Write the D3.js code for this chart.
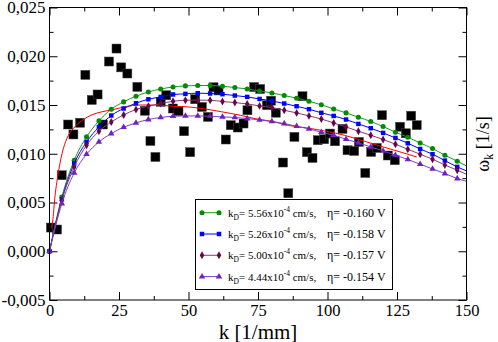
<!DOCTYPE html>
<html><head><meta charset="utf-8">
<script src="https://cdn.jsdelivr.net/npm/d3@7"></script>
<style>
html,body{margin:0;padding:0;background:#fff;}
svg{display:block;}
svg text{font-family:"Liberation Serif","Times New Roman",Times,"DejaVu Serif",serif !important;}
</style></head>
<body>
<svg id="chart" width="498" height="342"></svg>
<script>
// ---- data ----
const expK = [0.5, 2.7, 4.4, 6.7, 8.6, 11.0, 12.9, 15.2, 17.3, 19.2, 21.4, 24.1, 25.8, 28.0, 31.6, 34.3, 36.3, 38.1, 40.0, 42.0, 44.4, 46.4, 48.4, 50.6, 52.4, 54.8, 57.0, 59.0, 60.8, 63.4, 65.2, 67.7, 69.8, 71.2, 73.6, 75.8, 78.2, 79.7, 81.4, 84.0, 85.9, 88.1, 91.0, 92.6, 94.6, 96.5, 98.8, 100.9, 102.7, 105.4, 107.2, 109.6, 111.3, 113.6, 115.7, 117.7, 119.6, 121.7, 124.2, 126.1, 128.2, 130.1, 132.1];
const expW = [0.00243, 0.00223, 0.00780, 0.01300, 0.01198, 0.01318, 0.01809, 0.01552, 0.01608, 0.01300, 0.01946, 0.02079, 0.01886, 0.01823, 0.01686, 0.01441, 0.01131, 0.00967, 0.01532, 0.01600, 0.01464, 0.01436, 0.01231, 0.01016, 0.01559, 0.01480, 0.01378, 0.01682, 0.01649, 0.01146, 0.01293, 0.01269, 0.01310, 0.01446, 0.01684, 0.01664, 0.01498, 0.01544, 0.01421, 0.00910, 0.00595, 0.01173, 0.01590, 0.01016, 0.00957, 0.01139, 0.01149, 0.01207, 0.01128, 0.01255, 0.01036, 0.01029, 0.01121, 0.00803, 0.01019, 0.01060, 0.01395, 0.00982, 0.00934, 0.01277, 0.01210, 0.01390, 0.01293];

const modelK = [0, 4.44, 8.89, 13.33, 17.78, 22.22, 26.67, 31.11, 35.56, 40, 44.44, 48.89, 53.33, 57.78, 62.22, 66.67, 71.11, 75.56, 80, 84.44, 88.89, 93.33, 97.78, 102.22, 106.67, 111.11, 115.56, 120, 124.44, 128.89, 133.33, 137.78, 142.22, 146.67];
const greenW = [0, 0.00557, 0.00934, 0.01173, 0.01337, 0.01457, 0.01532, 0.01590, 0.01634, 0.01664, 0.01685, 0.01696, 0.01700, 0.01700, 0.01693, 0.01679, 0.01665, 0.01644, 0.01624, 0.01597, 0.01570, 0.01539, 0.01502, 0.01460, 0.01419, 0.01375, 0.01331, 0.01279, 0.01221, 0.01169, 0.01111, 0.01054, 0.00985, 0.00923];
const blueW = [0, 0.00533, 0.00900, 0.01121, 0.01275, 0.01392, 0.01464, 0.01518, 0.01559, 0.01583, 0.01608, 0.01614, 0.01621, 0.01618, 0.01611, 0.01597, 0.01583, 0.01562, 0.01542, 0.01515, 0.01487, 0.01457, 0.01420, 0.01388, 0.01351, 0.01306, 0.01262, 0.01214, 0.01162, 0.01108, 0.01049, 0.00995, 0.00930, 0.00865];
const maroonW = [0, 0.00523, 0.00865, 0.01087, 0.01231, 0.01326, 0.01398, 0.01454, 0.01488, 0.01515, 0.01538, 0.01549, 0.01550, 0.01549, 0.01536, 0.01525, 0.01511, 0.01491, 0.01474, 0.01446, 0.01419, 0.01388, 0.01356, 0.01316, 0.01275, 0.01231, 0.01190, 0.01146, 0.01098, 0.01046, 0.00995, 0.00944, 0.00885, 0.00831];
const purpleW = [0, 0.00489, 0.00803, 0.00995, 0.01121, 0.01207, 0.01272, 0.01316, 0.01351, 0.01372, 0.01385, 0.01388, 0.01388, 0.01385, 0.01378, 0.01372, 0.01361, 0.01347, 0.01331, 0.01310, 0.01282, 0.01255, 0.01221, 0.01190, 0.01149, 0.01111, 0.01070, 0.01029, 0.00985, 0.00941, 0.00893, 0.00844, 0.00797, 0.00746];
const endK = 150;
const endW = [0.00875, 0.00824, 0.00790, 0.00718]; // green, blue, maroon, purple at k=150

const redK = [0.6, 1.1, 2.0, 3.2, 4.5, 6.3, 8.6, 11.7, 15.3, 18.8, 22.4, 27, 32.6, 38, 44.6, 50, 56.6, 62, 68.6, 74, 80.5, 86, 92.6, 99.7, 106, 114.1, 120, 126.1, 132.1];
const redW = [0.0024, 0.0030, 0.0057, 0.0081, 0.0100, 0.0116, 0.0126, 0.0134, 0.0140, 0.0143, 0.0145, 0.0148, 0.0150, 0.0150, 0.01487, 0.0148, 0.01457, 0.0143, 0.01395, 0.0136, 0.0133, 0.0129, 0.01265, 0.0123, 0.0119, 0.01121, 0.0107, 0.01019, 0.00967];

const kdLabels = ["5.56", "5.26", "5.00", "4.44"];
const etaLabels = ["-0.160", "-0.158", "-0.157", "-0.154"];
const xMajor = [0, 25, 50, 75, 100, 125, 150];
const xMinor = [12.5, 37.5, 62.5, 87.5, 112.5, 137.5];
const yMajor = [-0.005, 0, 0.005, 0.010, 0.015, 0.020, 0.025];
const yMinor = [-0.0025, 0.0025, 0.0075, 0.0125, 0.0175, 0.0225];

// ---- chart ----
const svg = d3.select("#chart");
const L = 49.5, R = 466.5, T = 7.5, B = 300;
const x = d3.scaleLinear().domain([0, 150]).range([L, R]);
const y = d3.scaleLinear().domain([-0.005, 0.025]).range([B, T]);
const fmt = v => d3.format(".3f")(v).replace(".", ",").replace("−", "-");

function axisStyle(g) {
  g.attr("font-family", null);
  g.select(".domain").remove();
  g.selectAll(".tick line").attr("stroke", "#000");
  g.selectAll("text").attr("fill", "#000");
}
// bottom
svg.append("g").attr("transform", `translate(0,${B})`)
  .call(d3.axisBottom(x).tickValues(xMajor).tickSize(-8).tickPadding(4).tickFormat(d3.format("d")))
  .call(axisStyle).selectAll("text").style("font-size", "16.5px");
svg.append("g").attr("transform", `translate(0,${B})`)
  .call(d3.axisBottom(x).tickValues(xMinor).tickSize(-4).tickFormat("")).call(axisStyle);
// top
svg.append("g").attr("transform", `translate(0,${T})`)
  .call(d3.axisTop(x).tickValues(xMajor).tickSize(-8).tickFormat("")).call(axisStyle);
svg.append("g").attr("transform", `translate(0,${T})`)
  .call(d3.axisTop(x).tickValues(xMinor).tickSize(-4).tickFormat("")).call(axisStyle);
// left
svg.append("g").attr("transform", `translate(${L},0)`)
  .call(d3.axisLeft(y).tickValues(yMajor).tickSize(-8).tickPadding(4).tickFormat(fmt))
  .call(axisStyle).selectAll("text").style("font-size", "17px");
svg.append("g").attr("transform", `translate(${L},0)`)
  .call(d3.axisLeft(y).tickValues(yMinor).tickSize(-4).tickFormat("")).call(axisStyle);
// right
svg.append("g").attr("transform", `translate(${R},0)`)
  .call(d3.axisRight(y).tickValues(yMajor).tickSize(-8).tickFormat("")).call(axisStyle);
svg.append("g").attr("transform", `translate(${R},0)`)
  .call(d3.axisRight(y).tickValues(yMinor).tickSize(-4).tickFormat("")).call(axisStyle);

// experimental squares
const exp = expK.map((k, i) => [k, expW[i]]);
svg.append("g").selectAll("rect").data(exp).join("rect")
  .attr("x", d => x(d[0]) - 4.5).attr("y", d => y(d[1]) - 4.5)
  .attr("width", 9).attr("height", 9)
  .attr("fill", "#000").attr("stroke", "#444").attr("stroke-width", 0.5);

// model series
const series = [
  {w: greenW, color: "#008b00", line: "#1a9a1a", sym: d3.symbolCircle, size: 20},
  {w: blueW, color: "#0000ff", line: "#0000ff", sym: d3.symbolSquare, size: 20},
  {w: maroonW, color: "#670748", line: "#8a3a6e", sym: d3.symbolDiamond, size: 18},
  {w: purpleW, color: "#7221bc", line: "#7f3fc8", sym: d3.symbolTriangle, size: 18},
];
const line = d3.line().x(d => x(d[0])).y(d => y(d[1])).curve(d3.curveMonotoneX);

// red curve
svg.append("path").datum(redK.map((k, i) => [k, redW[i]]))
  .attr("d", line).attr("fill", "none").attr("stroke", "#ff0000").attr("stroke-width", 1);

series.forEach((s, si) => {
  const pts = modelK.map((k, i) => [k, s.w[i]]);
  svg.append("path").datum(pts.concat([[endK, endW[si]]]))
    .attr("d", line).attr("fill", "none").attr("stroke", s.line).attr("stroke-width", 1);
  svg.append("g").selectAll("path").data(pts).join("path")
    .attr("transform", d => `translate(${x(d[0])},${y(d[1])})`)
    .attr("d", d3.symbol().type(s.sym).size(s.size)).attr("fill", s.color);
});

// frame
svg.append("rect").attr("x", L).attr("y", T).attr("width", R - L).attr("height", B - T)
  .attr("fill", "none").attr("stroke", "#000").attr("stroke-width", 1);

// legend
const lg = svg.append("g");
lg.append("rect").attr("x", 195.5).attr("y", 199.5).attr("width", 197).attr("height", 90)
  .attr("fill", "#fff").attr("stroke", "#000").attr("stroke-width", 1);
series.forEach((s, i) => {
  const cy = 212.7 + i * 21.3;
  lg.append("line").attr("x1", 202).attr("x2", 219).attr("y1", cy).attr("y2", cy)
    .attr("stroke", s.line).attr("stroke-width", 1);
  [202, 219].forEach(px => lg.append("path").attr("transform", `translate(${px},${cy})`)
    .attr("d", d3.symbol().type(s.sym).size(s.size)).attr("fill", s.color));
  const t = lg.append("text").attr("x", 228).attr("y", cy + 4).style("font-size", "11px").attr("fill", "#000");
  t.append("tspan").text("k");
  t.append("tspan").attr("dy", 3).style("font-size", "7.5px").text("D");
  t.append("tspan").attr("dy", -3).text("= " + kdLabels[i] + "x10");
  t.append("tspan").attr("dy", -5).style("font-size", "7.5px").text("-4");
  t.append("tspan").attr("dy", 5).text(" cm/s,");
  lg.append("text").attr("x", 327).attr("y", cy + 4).style("font-size", "12px").attr("fill", "#000")
    .text("η= " + etaLabels[i] + " V");
});

// axis titles
svg.append("text").attr("x", (L + R) / 2).attr("y", 338.5).attr("text-anchor", "middle")
  .style("font-size", "21px").attr("fill", "#000").text("k [1/mm]");
const yt = svg.append("text").attr("transform", "translate(489,144) rotate(-90)")
  .attr("text-anchor", "middle").style("font-size", "18px").attr("fill", "#000");
yt.append("tspan").text("ω");
yt.append("tspan").attr("dy", 4).style("font-size", "12px").text("k");
yt.append("tspan").attr("dy", -4).text(" [1/s]");
</script>
</body></html>
